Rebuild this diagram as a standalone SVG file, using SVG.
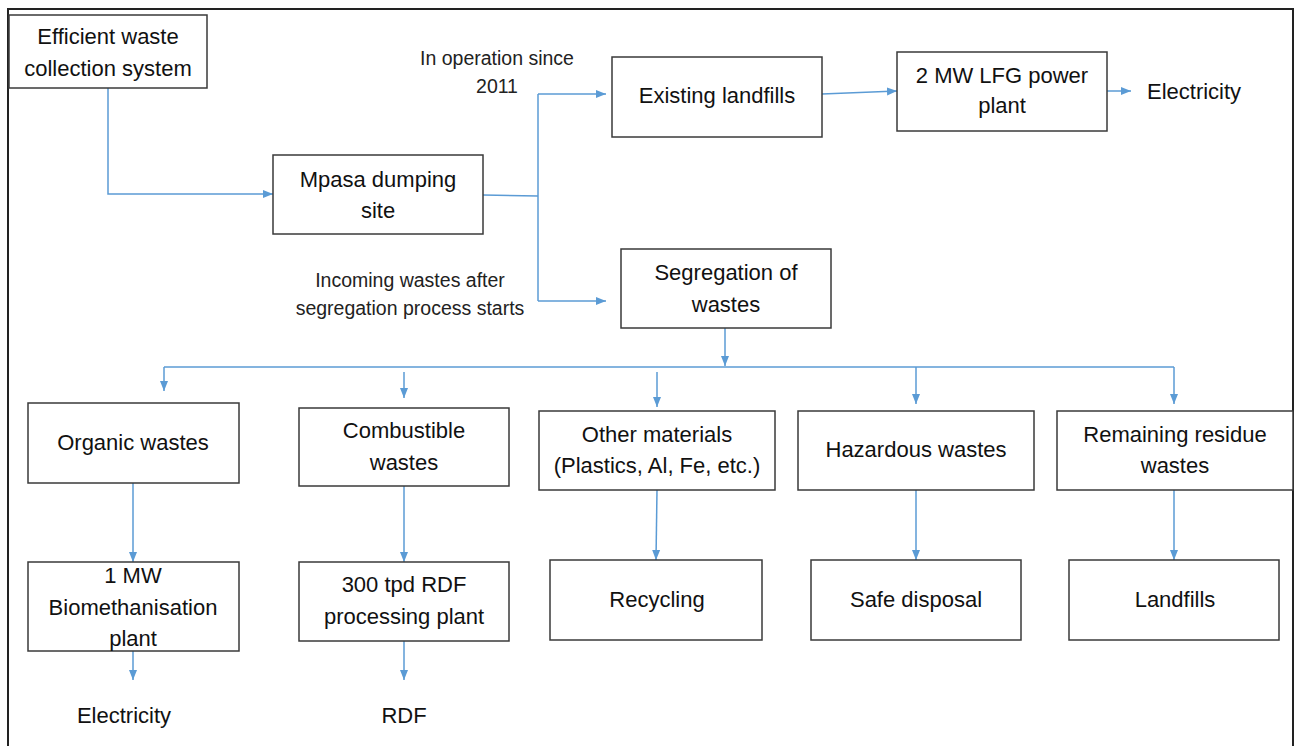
<svg xmlns="http://www.w3.org/2000/svg" width="1294" height="746" viewBox="0 0 1294 746">
<style>
  .box { fill: #ffffff; stroke: #3a3a3a; stroke-width: 1.5; }
  .t { font-family: "Liberation Sans", Arial, sans-serif; font-size: 22px; fill: #111111; text-anchor: middle; }
  .lbl { font-family: "Liberation Sans", Arial, sans-serif; font-size: 19.5px; fill: #222222; text-anchor: middle; }
  .c { fill: none; stroke: #5B9BD5; stroke-width: 1.5; }
  .a { marker-end: url(#arr); }
</style>
<defs>
  <marker id="arr" markerUnits="userSpaceOnUse" markerWidth="10" markerHeight="10" viewBox="0 0 10 10" refX="10" refY="5" orient="auto">
    <path d="M0,1 L10,5 L0,9 Z" fill="#5B9BD5"/>
  </marker>
</defs>
<rect x="0" y="0" width="1294" height="746" fill="#ffffff"/>
<path d="M8,750 V9 H1293 V750" fill="none" stroke="#222222" stroke-width="2"/>

<g id="connectors">
  <path class="c a" d="M108,88 V194 H273"/>
  <path class="c" d="M483,195 L538,196"/>
  <path class="c" d="M538,94 V301"/>
  <path class="c a" d="M538,94 H606"/>
  <path class="c a" d="M538,301 H606"/>
  <path class="c a" d="M822,94 L897,91"/>
  <path class="c a" d="M1107,91 H1131"/>
  <path class="c a" d="M725,328 V366"/>
  <path class="c" d="M164,367 H1174"/>
  <path class="c a" d="M164,367 V391"/>
  <path class="c a" d="M404,372 V398"/>
  <path class="c a" d="M657,372 V407"/>
  <path class="c a" d="M916,367 V404"/>
  <path class="c a" d="M1174,367 V404"/>
  <path class="c a" d="M133,483 V562"/>
  <path class="c a" d="M404,486 V562"/>
  <path class="c a" d="M657,490 L656,560"/>
  <path class="c a" d="M916,490 V560"/>
  <path class="c a" d="M1174,490 V560"/>
  <path class="c a" d="M133,651 V680"/>
  <path class="c a" d="M404,641 V680"/>
</g>

<g id="efficient">
  <rect class="box" x="9" y="15" width="198" height="73"/>
  <text class="t" x="108" y="44">Efficient waste</text>
  <text class="t" x="108" y="76">collection system</text>
</g>
<g id="mpasa">
  <rect class="box" x="273" y="155" width="210" height="79"/>
  <text class="t" x="378" y="187">Mpasa dumping</text>
  <text class="t" x="378" y="218">site</text>
</g>
<g id="label-operation">
  <text class="lbl" x="497" y="65">In operation since</text>
  <text class="lbl" x="497" y="93">2011</text>
</g>
<g id="label-incoming">
  <text class="lbl" x="410" y="287">Incoming wastes after</text>
  <text class="lbl" x="410" y="315">segregation process starts</text>
</g>
<g id="existing">
  <rect class="box" x="612" y="57" width="210" height="80"/>
  <text class="t" x="717" y="103">Existing landfills</text>
</g>
<g id="lfg">
  <rect class="box" x="897" y="52" width="210" height="79"/>
  <text class="t" x="1002" y="83">2 MW LFG power</text>
  <text class="t" x="1002" y="113">plant</text>
</g>
<g id="electricity-top">
  <text class="t" x="1147" y="99" style="text-anchor:start">Electricity</text>
</g>
<g id="segregation">
  <rect class="box" x="621" y="249" width="210" height="79"/>
  <text class="t" x="726" y="280">Segregation of</text>
  <text class="t" x="726" y="312">wastes</text>
</g>

<g id="organic">
  <rect class="box" x="28" y="403" width="211" height="80"/>
  <text class="t" x="133" y="450">Organic wastes</text>
</g>
<g id="combustible">
  <rect class="box" x="299" y="408" width="210" height="78"/>
  <text class="t" x="404" y="438">Combustible</text>
  <text class="t" x="404" y="470">wastes</text>
</g>
<g id="other">
  <rect class="box" x="539" y="411" width="236" height="79"/>
  <text class="t" x="657" y="442">Other materials</text>
  <text class="t" x="657" y="473">(Plastics, Al, Fe, etc.)</text>
</g>
<g id="hazardous">
  <rect class="box" x="798" y="411" width="236" height="79"/>
  <text class="t" x="916" y="457">Hazardous wastes</text>
</g>
<g id="remaining">
  <rect class="box" x="1057" y="411" width="236" height="79"/>
  <text class="t" x="1175" y="442">Remaining residue</text>
  <text class="t" x="1175" y="473">wastes</text>
</g>

<g id="biomethanisation">
  <rect class="box" x="28" y="562" width="211" height="89"/>
  <text class="t" x="133" y="583">1 MW</text>
  <text class="t" x="133" y="615">Biomethanisation</text>
  <text class="t" x="133" y="646">plant</text>
</g>
<g id="rdf-plant">
  <rect class="box" x="299" y="562" width="210" height="79"/>
  <text class="t" x="404" y="592">300 tpd RDF</text>
  <text class="t" x="404" y="624">processing plant</text>
</g>
<g id="recycling">
  <rect class="box" x="550" y="560" width="212" height="80"/>
  <text class="t" x="657" y="607">Recycling</text>
</g>
<g id="safe-disposal">
  <rect class="box" x="811" y="560" width="210" height="80"/>
  <text class="t" x="916" y="607">Safe disposal</text>
</g>
<g id="landfills">
  <rect class="box" x="1069" y="560" width="210" height="80"/>
  <text class="t" x="1175" y="607">Landfills</text>
</g>
<g id="electricity-bottom">
  <text class="t" x="124" y="723">Electricity</text>
</g>
<g id="rdf">
  <text class="t" x="404" y="723">RDF</text>
</g>
</svg>
